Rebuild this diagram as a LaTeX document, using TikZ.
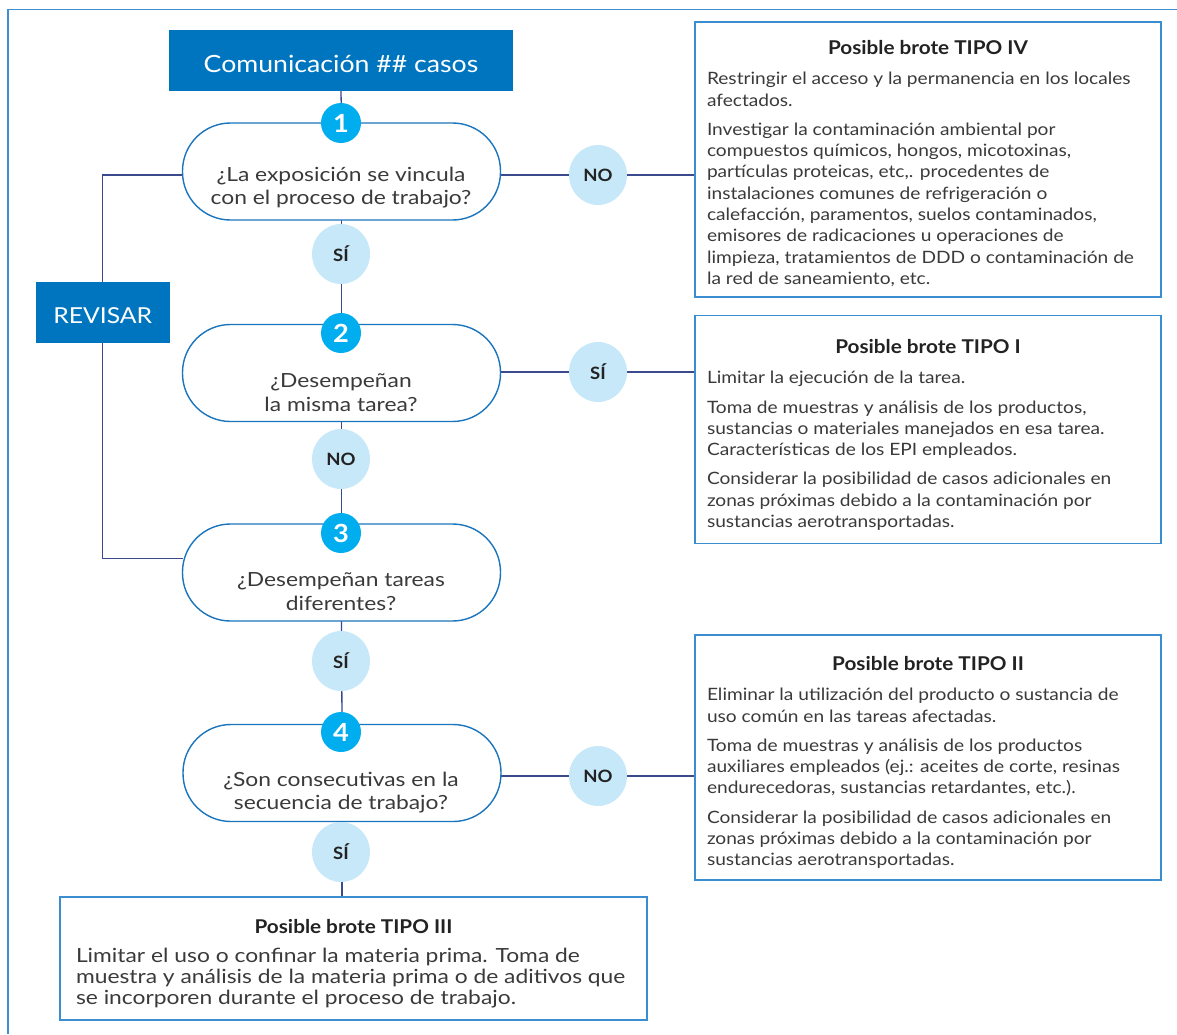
\documentclass[tikz,border=0pt]{standalone}
\usepackage{fontspec}
\setmainfont{Lato}[FakeStretch=1.125, BoldFeatures={FakeStretch=1.09}]
\newfontfamily\widef{Lato}[FakeStretch=1.17]
\usetikzlibrary{shapes.geometric}
\pgfdeclarelayer{bg}
\pgfsetlayers{bg,main}
\definecolor{titlefill}{HTML}{0075BF}
\definecolor{numfill}{HTML}{00ADEE}
\definecolor{ansfill}{HTML}{C7E8F8}
\definecolor{stadc}{HTML}{1B75BC}
\definecolor{boxc}{HTML}{3C8DD0}
\definecolor{framec}{HTML}{3F8FD0}
\definecolor{connc}{HTML}{3B4A8C}
\definecolor{txtc}{HTML}{3A3A3A}
\definecolor{darkc}{HTML}{222222}
\tikzset{
 every node/.style={inner sep=0pt, outer sep=0pt, text=txtc},
 stadium/.style={draw=stadc, line width=1.4pt, fill=white, rounded corners=48pt, minimum width=318pt, minimum height=97pt},
 numc/.style={circle, fill=numfill, minimum size=40pt, text=white, font=\bfseries\fontsize{25}{25}\selectfont},
 ans/.style={ellipse, fill=ansfill, minimum width=58pt, minimum height=60pt, font=\bfseries\fontsize{17}{17}\selectfont, text=darkc},
 infobox/.style={draw=boxc, line width=1.6pt, fill=white},
 bluebox/.style={fill=titlefill},
 whitetext/.style={text=white, anchor=base},
 conn/.style={draw=connc, line width=1.3pt},
 qtext/.style={align=center, font=\widef\fontsize{19.5}{23.5}\selectfont},
 boxtitle/.style={font=\bfseries\fontsize{19}{19}\selectfont, anchor=base, text=darkc},
 body/.style={align=left, anchor=north west, font=\fontsize{17}{21.3}\selectfont},
 bodybig/.style={align=left, anchor=north west, font=\widef\fontsize{19.5}{21}\selectfont},
}
\begin{document}
\begin{tikzpicture}[x=1pt,y=-1pt]
\useasboundingbox (0,0) rectangle (1177,1034);
\draw[framec, line width=1.5pt] (8,1034) -- (8,9.3) -- (1177,9.3);

% left column
\node[bluebox, minimum width=344pt, minimum height=61pt] (top) at (341,60.5) {};
\node[whitetext, font=\fontsize{23.7}{23.7}\selectfont] (toptext) at (341,72) {Comunicación \#\# casos};
\node[stadium] (s1) at (341.5,171.5) {};
\node[stadium] (s2) at (341.5,373) {};
\node[stadium] (s3) at (341.5,572.5) {};
\node[stadium] (s4) at (342,773) {};
\node[qtext] (q1) at (341,187.5) {¿La exposición se vincula\\con el proceso de trabajo?};
\node[qtext] (q2) at (341,392.5) {¿Desempeñan\\la misma tarea?};
\node[qtext] (q3) at (341,591.5) {¿Desempeñan tareas\\diferentes?};
\node[qtext] (q4) at (341,792.5) {¿Son consecutivas en la\\secuencia de trabajo?};
\node[numc] (n1) at (341,123) {1};
\node[numc] (n2) at (341,333) {2};
\node[numc] (n3) at (341,533) {3};
\node[numc] (n4) at (341,732) {4};
\node[ans] (a1) at (341,254) {SÍ};
\node[ans] (a2) at (341,459) {NO};
\node[ans] (a3) at (341,661) {SÍ};
\node[ans] (a4) at (341,852) {SÍ};
\node[bluebox, minimum width=133.5pt, minimum height=61pt] (rev) at (102.75,312.5) {};
\node[whitetext, font=\fontsize{22}{22}\selectfont] (revtext) at (102.75,323.5) {REVISAR};

% right answers
\node[ans] (r1) at (598,175) {NO};
\node[ans] (r2) at (598,372) {SÍ};
\node[ans] (r3) at (598,776) {NO};

% info boxes
\node[infobox, minimum width=466pt, minimum height=275pt] (b4) at (928,159.5) {};
\node[infobox, minimum width=466pt, minimum height=228pt] (b1) at (928,429.4) {};
\node[infobox, minimum width=466pt, minimum height=245.3pt] (b2) at (928,757.4) {};
\node[infobox, minimum width=587pt, minimum height=123pt] (b3) at (353.5,958.5) {};

\node[boxtitle] (t4) at (928,54.5) {Posible brote TIPO IV};
\node[boxtitle] (t1) at (928,353.5) {Posible brote TIPO I};
\node[boxtitle] (t2) at (928,670) {Posible brote TIPO II};
\node[boxtitle] (t3) at (353.5,933) {Posible brote TIPO III};

\node[body] (p4) at (707,70) {\strut Restringir el acceso y la permanencia en los locales\\
afectados.\\[7.8pt]
Investigar la contaminación ambiental por\\
compuestos químicos, hongos, micotoxinas,\\
partículas proteicas, etc,. procedentes de\\
instalaciones comunes de refrigeración o\\
calefacción, paramentos, suelos contaminados,\\
emisores de radicaciones u operaciones de\\
limpieza, tratamientos de DDD o contaminación de\\
la red de saneamiento, etc.};

\node[body] (p1) at (707,369) {\strut Limitar la ejecución de la tarea.\\[7.8pt]
Toma de muestras y análisis de los productos,\\
sustancias o materiales manejados en esa tarea.\\
Características de los EPI empleados.\\[7.8pt]
Considerar la posibilidad de casos adicionales en\\
zonas próximas debido a la contaminación por\\
sustancias aerotransportadas.};

\node[body] (p2) at (707,686) {\strut Eliminar la utilización del producto o sustancia de\\
uso común en las tareas afectadas.\\[7.8pt]
Toma de muestras y análisis de los productos\\
auxiliares empleados (ej.: aceites de corte, resinas\\
endurecedoras, sustancias retardantes, etc.).\\[7.8pt]
Considerar la posibilidad de casos adicionales en\\
zonas próximas debido a la contaminación por\\
sustancias aerotransportadas.};

\node[bodybig] (p3) at (76,948) {\strut Limitar el uso o confinar la materia prima. Toma de\\
muestra y análisis de la materia prima o de aditivos que\\
se incorporen durante el proceso de trabajo.};

% connectors
\begin{pgfonlayer}{bg}
\draw[conn] (top.south) -- (s1.north);
\draw[conn] (s1.south) -- (s2.north);
\draw[conn] (s2.south) -- (s3.north);
\draw[conn] (s3.south) -- (s4.north);
\draw[conn] (s4.south) -- (s4.south |- b3.north);
\draw[conn] (r1 -| s1.east) -- (r1 -| b4.west);
\draw[conn] (r2 -| s2.east) -- (r2 -| b1.west);
\draw[conn] (r3 -| s4.east) -- (r3 -| b2.west);
\coordinate (c3) at (103,558.7);
\draw[conn] (r1 -| s1.west) -- (r1 -| rev.north) -- (rev.north);
\draw[conn] (rev.south) -- (rev.south |- c3) -- (c3 -| s3.west);
\end{pgfonlayer}
\end{tikzpicture}
\end{document}
